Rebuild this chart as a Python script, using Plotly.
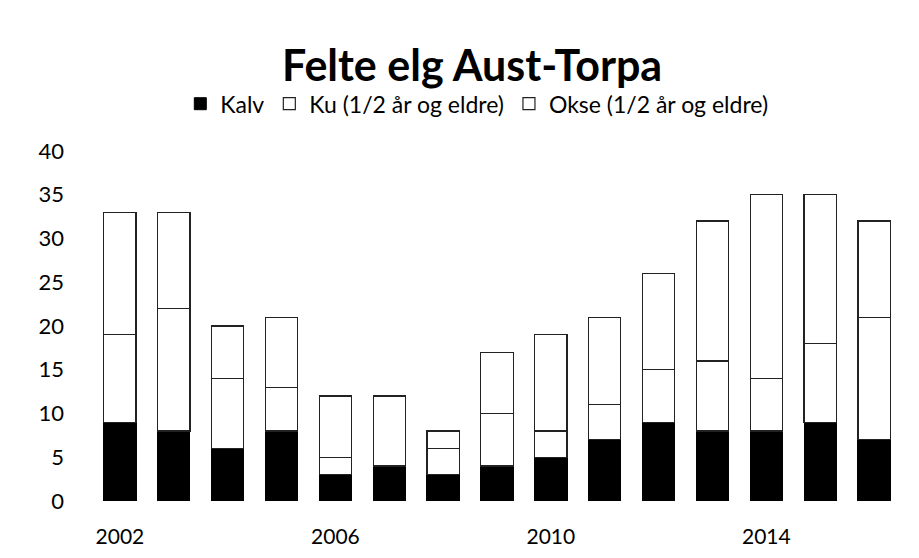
import plotly.graph_objects as go

years = list(range(2002, 2017))
kalv = [9, 8, 6, 8, 3, 4, 3, 4, 5, 7, 9, 8, 8, 9, 7]
ku = [10, 14, 8, 5, 2, 0, 3, 6, 3, 4, 6, 8, 6, 9, 14]
okse = [14, 11, 6, 8, 7, 8, 2, 7, 11, 10, 11, 16, 21, 17, 11]

font = "Lato, 'Open Sans', sans-serif"

fig = go.Figure()
fig.add_trace(go.Bar(x=years, y=kalv, name="Kalv",
                     marker=dict(color="#000000", line=dict(color="#000000", width=1))))
fig.add_trace(go.Bar(x=years, y=ku, name="Ku (1/2 år og eldre)",
                     marker=dict(color="#ffffff", line=dict(color="#222222", width=1.2))))
fig.add_trace(go.Bar(x=years, y=okse, name="Okse (1/2 år og eldre)",
                     marker=dict(color="#ffffff", line=dict(color="#222222", width=1.2))))

fig.update_layout(
    barmode="stack",
    bargap=0.4,
    width=919, height=558,
    margin=dict(l=85, r=26, t=143, b=65),
    paper_bgcolor="white", plot_bgcolor="white",
    font=dict(family=font, color="#000000", size=21),
    title=dict(text="<b>Felte elg Aust-Torpa</b>", x=0.505, xanchor="center",
               y=0.896, yanchor="middle", font=dict(size=43, family=font)),
    legend=dict(orientation="h", x=0.475, xanchor="center", y=1.135, yanchor="middle",
                font=dict(size=23), traceorder="normal", itemwidth=30),
    showlegend=True,
)
fig.update_xaxes(range=[2001.5, 2016.5], tickmode="array", tickvals=[2002, 2006, 2010, 2014],
                 showgrid=False, zeroline=False, showline=False,
                 ticks="outside", ticklen=17, tickcolor="rgba(0,0,0,0)", tickfont=dict(size=21))
fig.update_yaxes(range=[0, 40], dtick=5, showgrid=False, zeroline=False, showline=False,
                 ticks="", tickfont=dict(size=22), ticklabelstandoff=28)

fig.write_html("out.html")
